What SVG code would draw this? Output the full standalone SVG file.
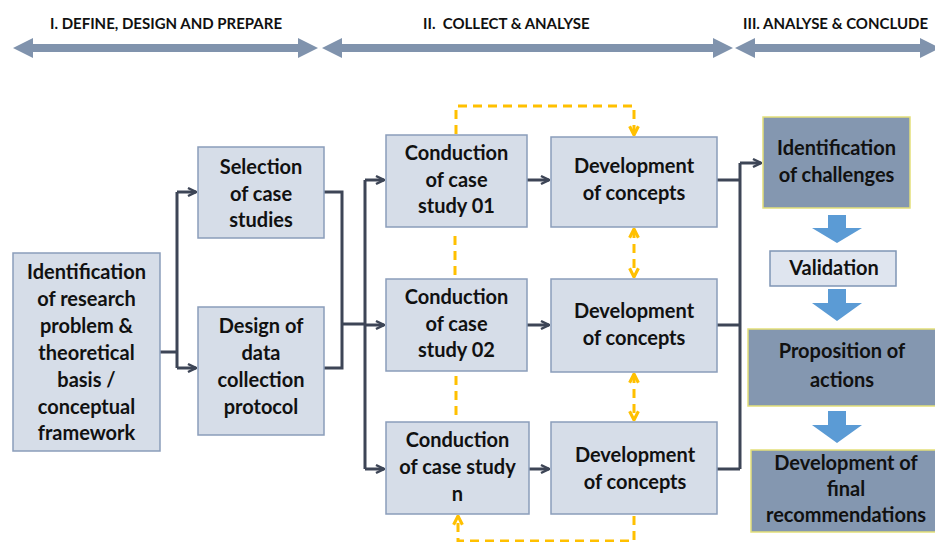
<svg xmlns="http://www.w3.org/2000/svg" width="935" height="542" viewBox="0 0 935 542">
<defs>
<style>
.box{fill:#d6dde8;stroke:#8a9dba;stroke-width:1.5}
.dark{fill:#8497b0;stroke:#e3e07a;stroke-width:1.5}
.light{fill:#dfe5ef;stroke:#7f95b5;stroke-width:1.5}
.t{font-family:Lato,"Open Sans",sans-serif;font-weight:bold;font-size:20px;fill:#111111;text-anchor:middle}
.h{font-family:Lato,"Open Sans",sans-serif;font-weight:bold;font-size:15px;fill:#111111;white-space:pre}
.band{fill:#8093ad}
.con{fill:none;stroke:#3d4556;stroke-width:3}
.dash{fill:none;stroke:#ffc000;stroke-width:3;stroke-dasharray:9,6}
.blk{fill:#5b9bd5}
</style>
<marker id="ah" viewBox="0 0 10 10" refX="9" refY="5" markerWidth="10" markerHeight="12" markerUnits="userSpaceOnUse" orient="auto">
<path d="M1,1 L9,5 L1,9" fill="none" stroke="#3d4556" stroke-width="2.5"/>
</marker>
<marker id="ya" viewBox="0 0 10 10" refX="9" refY="5" markerWidth="11" markerHeight="13" markerUnits="userSpaceOnUse" orient="auto-start-reverse">
<path d="M1,1 L9,5 L1,9" fill="none" stroke="#ffc000" stroke-width="2.8"/>
</marker>
</defs>
<rect width="935" height="542" fill="#ffffff"/>
<g id="phases">
<text class="h" x="50" y="29">I. DEFINE, DESIGN AND PREPARE</text>
<text class="h" x="423" y="29">II.  COLLECT &amp; ANALYSE</text>
<text class="h" x="743" y="29">III. ANALYSE &amp; CONCLUDE</text>
<polygon class="band" points="13,48 33,38 33,44 298,44 298,38 318,48 298,58 298,52 33,52 33,58"/>
<polygon class="band" points="322,48 342,38 342,44 713,44 713,38 733,48 713,58 713,52 342,52 342,58"/>
<polygon class="band" points="735,48 755,38 755,44 920,44 920,38 940,48 920,58 920,52 755,52 755,58"/>
</g>
<g id="connectors">
<path class="con" d="M160,352 H177 M177,192 V368 M342,324 H365 M365,180 V469 M740,469 V163 M324,192 H342 V368 H324 M717,180 H740 M717,325 H740 M717,469 H740"/>
<path class="con" marker-end="url(#ah)" d="M177,192 H196"/>
<path class="con" marker-end="url(#ah)" d="M177,368 H196"/>
<path class="con" marker-end="url(#ah)" d="M365,180 H384"/>
<path class="con" marker-end="url(#ah)" d="M365,325 H384"/>
<path class="con" marker-end="url(#ah)" d="M365,469 H384"/>
<path class="con" marker-end="url(#ah)" d="M527,180 H549"/>
<path class="con" marker-end="url(#ah)" d="M527,325 H549"/>
<path class="con" marker-end="url(#ah)" d="M529,469 H549"/>
<path class="con" marker-end="url(#ah)" d="M740,163 H761"/>
<path class="dash" marker-end="url(#ya)" d="M456,134 V106 H634 V135"/>
<path class="dash" d="M455,236 V276"/>
<path class="dash" d="M456,376 V420"/>
<path class="dash" marker-start="url(#ya)" marker-end="url(#ya)" d="M634,229 V277"/>
<path class="dash" marker-start="url(#ya)" marker-end="url(#ya)" d="M634,374 V420"/>
<path class="dash" marker-end="url(#ya)" d="M634,516 V541 H458 V516"/>
<polygon class="blk" points="828,215 846,215 846,228 862,228 837,243 812,228 828,228"/>
<polygon class="blk" points="828,289 846,289 846,303 862,303 837,321 812,303 828,303"/>
<polygon class="blk" points="828,411 846,411 846,425 862,425 837,443 812,425 828,425"/>
</g>
<g id="n_problem">
<rect class="box" x="13" y="253" width="147" height="198"/>
<text class="t" x="86.5" y="279">Identification</text>
<text class="t" x="86.5" y="306">of research</text>
<text class="t" x="86.5" y="333">problem &amp;</text>
<text class="t" x="86.5" y="360">theoretical</text>
<text class="t" x="86.5" y="387">basis /</text>
<text class="t" x="86.5" y="414">conceptual</text>
<text class="t" x="86.5" y="440">framework</text>
</g>
<g id="n_selection">
<rect class="box" x="198" y="147" width="126" height="91"/>
<text class="t" x="261" y="174">Selection</text>
<text class="t" x="261" y="201">of case</text>
<text class="t" x="261" y="227">studies</text>
</g>
<g id="n_design">
<rect class="box" x="198" y="307" width="126" height="128"/>
<text class="t" x="261" y="333">Design of</text>
<text class="t" x="261" y="360">data</text>
<text class="t" x="261" y="387">collection</text>
<text class="t" x="261" y="414">protocol</text>
</g>
<g id="n_c1">
<rect class="box" x="386" y="135" width="141" height="92"/>
<text class="t" x="456.5" y="160">Conduction</text>
<text class="t" x="456.5" y="187">of case</text>
<text class="t" x="456.5" y="213">study 01</text>
</g>
<g id="n_c2">
<rect class="box" x="386" y="279" width="141" height="92"/>
<text class="t" x="456.5" y="304">Conduction</text>
<text class="t" x="456.5" y="331">of case</text>
<text class="t" x="456.5" y="357">study 02</text>
</g>
<g id="n_cn">
<rect class="box" x="386" y="422" width="143" height="92"/>
<text class="t" x="457.5" y="447">Conduction</text>
<text class="t" x="457.5" y="474">of case study</text>
<text class="t" x="457.5" y="501">n</text>
</g>
<g id="n_d1">
<rect class="box" x="551" y="137" width="166" height="90"/>
<text class="t" x="634" y="173">Development</text>
<text class="t" x="634" y="200">of concepts</text>
</g>
<g id="n_d2">
<rect class="box" x="551" y="279" width="166" height="93"/>
<text class="t" x="634" y="318">Development</text>
<text class="t" x="634" y="345">of concepts</text>
</g>
<g id="n_d3">
<rect class="box" x="551" y="422" width="166" height="92"/>
<text class="t" x="635" y="462">Development</text>
<text class="t" x="635" y="489">of concepts</text>
</g>
<g id="n_ident">
<rect class="dark" x="763" y="117" width="147" height="91"/>
<text class="t" x="836.5" y="155">Identification</text>
<text class="t" x="836.5" y="182">of challenges</text>
</g>
<g id="n_valid">
<rect class="light" x="770" y="251" width="126" height="35"/>
<text class="t" x="834" y="275">Validation</text>
</g>
<g id="n_prop">
<rect class="dark" x="748" y="329" width="190" height="77"/>
<text class="t" x="842" y="358">Proposition of</text>
<text class="t" x="842" y="387">actions</text>
</g>
<g id="n_final">
<rect class="dark" x="751" y="450" width="187" height="82"/>
<text class="t" x="846" y="470">Development of</text>
<text class="t" x="846" y="496">final</text>
<text class="t" x="846" y="522">recommendations</text>
</g>
</svg>
